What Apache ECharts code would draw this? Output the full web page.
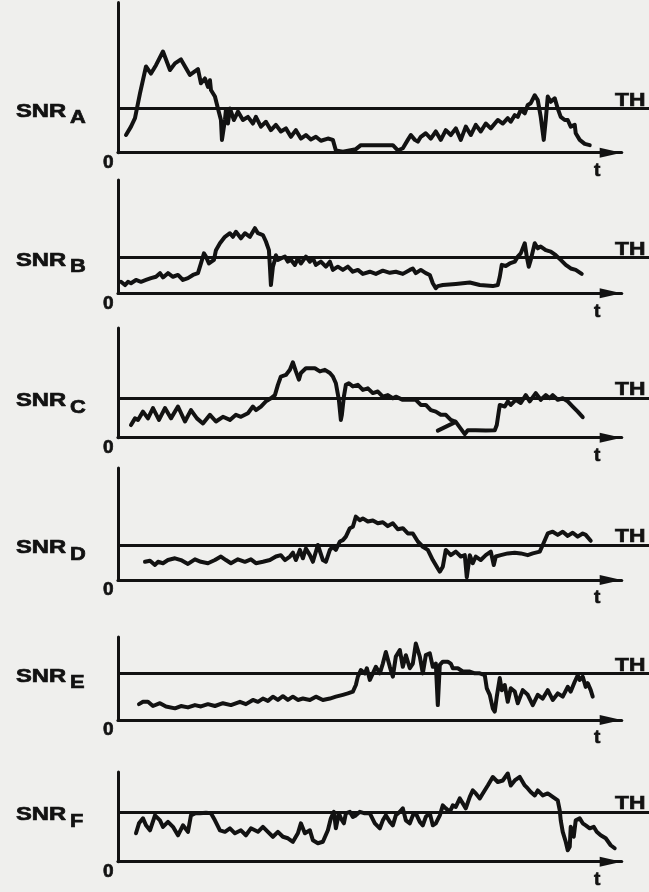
<!DOCTYPE html>
<html>
<head>
<meta charset="utf-8">
<script src="https://cdn.jsdelivr.net/npm/echarts/dist/echarts.min.js"></script>
<style>
html,body{margin:0;padding:0;background:#efefed;}
#chart{width:649px;height:892px;}
</style>
</head>
<body>
<div id="chart"></div>
<script>
// ---- data (time units along t, SNR in units where threshold TH = 10) ----
const panelNames = ['A', 'B', 'C', 'D', 'E', 'F'];
const thresholds = [10, 10, 10, 10, 10, 10];
const timeMax = 504;
const yMax = [34, 31.5, 27.8, 32, 17.8, 18];

const snrA = [[8,4.0],[13,5.9],[17,7.8],[22,13.4],[28,19.5],[33,17.9],[38,19.8],[45,22.9],[52,18.7],[57,20.2],[63,21.1],[72,17.6],[80,18.9],[83,15.7],[87,16.8],[90,14.9],[92,16.4],[93,14.2],[97,12.7],[100,10.0],[103,7.4],[104,2.9],[107,7.4],[108,9.7],[110,6.6],[112,10.0],[116,7.4],[120,9.3],[125,7.4],[130,8.1],[135,6.6],[138,8.1],[143,5.9],[148,7.0],[153,5.1],[158,6.3],[163,4.8],[168,5.5],[173,3.6],[178,5.1],[183,3.2],[188,4.0],[193,3.0],[198,3.6],[203,2.7],[210,3.2],[215,2.9],[218,0.5],[225,0.2],[238,0.8],[243,1.7],[275,1.7],[280,0.5],[285,1.0],[290,2.9],[293,4.0],[297,2.9],[300,2.5],[303,3.6],[308,4.4],[313,3.2],[318,4.8],[323,2.9],[328,5.1],[333,4.0],[338,5.5],[343,2.9],[348,5.9],[353,4.0],[358,6.3],[363,4.8],[368,6.6],[373,5.5],[380,7.4],[385,6.6],[390,7.8],[393,7.0],[397,8.5],[400,8.1],[403,9.7],[407,8.9],[410,10.8],[413,11.2],[417,13.0],[420,11.9],[423,8.1],[426,2.9],[428,7.4],[430,12.7],[433,11.5],[437,12.3],[440,10.0],[443,8.1],[447,7.4],[450,7.4],[453,5.9],[457,6.3],[458,4.4],[462,2.9],[467,2.0],[472,1.7]];

const snrB = [[3,3.2],[7,2.3],[10,3.2],[13,2.8],[18,3.7],[23,3.2],[28,3.7],[33,4.2],[38,4.6],[42,5.6],[45,4.4],[50,5.6],[55,4.6],[60,5.1],[65,3.7],[70,4.2],[75,5.1],[80,5.6],[83,8.3],[86,11.1],[88,10.2],[91,8.3],[93,7.9],[96,9.3],[98,12.0],[102,13.9],[107,15.7],[112,16.7],[115,15.7],[118,17.1],[123,15.3],[127,16.7],[132,15.7],[137,18.1],[140,16.7],[145,16.2],[148,14.4],[151,12.0],[152,7.4],[153,2.3],[155,7.4],[157,9.3],[158,10.6],[160,9.3],[163,9.7],[167,10.2],[170,8.8],[173,9.3],[177,7.9],[180,9.7],[183,8.3],[188,10.2],[192,8.8],[195,9.7],[198,7.9],[203,8.8],[208,7.4],[212,8.8],[215,6.5],[220,7.4],[225,6.5],[230,7.4],[235,6.0],[240,6.5],[245,5.4],[252,6.0],[258,5.4],[265,6.3],[272,5.7],[278,6.0],[285,5.4],[292,6.5],[295,6.9],[298,5.6],[303,6.5],[308,5.6],[312,5.1],[315,2.8],[318,1.4],[320,2.0],[325,2.3],[338,2.6],[352,3.0],[362,2.3],[375,2.0],[380,2.3],[382,4.6],[384,7.9],[388,7.6],[392,8.3],[397,8.8],[400,10.2],[403,11.1],[407,13.9],[409,10.2],[411,7.4],[413,9.3],[417,13.9],[420,12.5],[423,13.0],[428,12.0],[433,11.6],[438,10.6],[443,9.3],[448,7.9],[453,6.9],[458,6.5],[464,5.4]];

const snrC = [[13,3.2],[17,4.9],[20,4.5],[25,6.6],[30,4.9],[35,7.5],[41,4.5],[47,7.5],[53,4.9],[60,7.9],[67,4.1],[73,7.0],[79,4.9],[85,3.6],[92,5.8],[98,4.1],[105,5.3],[112,4.5],[118,5.8],[123,5.3],[130,6.2],[135,7.9],[138,7.0],[143,7.9],[148,9.2],[153,10.0],[157,10.8],[160,13.4],[163,15.5],[168,15.9],[172,17.2],[175,19.1],[178,16.8],[181,14.7],[183,16.4],[188,17.6],[197,17.6],[202,16.8],[207,17.2],[212,16.4],[215,15.5],[218,13.8],[221,9.6],[223,4.5],[224,5.8],[226,10.4],[228,13.4],[231,13.8],[235,13.0],[240,13.4],[245,12.1],[250,12.5],[255,11.3],[260,11.7],[265,10.4],[270,10.8],[275,10.0],[278,10.4],[285,9.6],[292,9.7],[298,9.6],[303,8.3],[308,8.3],[313,7.0],[318,6.6],[323,5.8],[328,5.8],[333,4.5],[338,4.0],[320,1.8],[338,4.0],[342,2.6],[347,0.9],[350,1.9],[358,1.9],[368,1.8],[377,1.9],[379,3.2],[381,6.6],[382,8.3],[387,7.9],[390,9.2],[393,8.3],[398,9.6],[403,8.8],[408,10.8],[412,9.2],[418,11.3],[423,9.6],[428,10.8],[432,10.0],[435,10.8],[440,9.6],[445,10.0],[450,9.2],[455,7.9],[460,6.6],[465,5.2]];

const snrD = [[27,5.2],[32,5.5],[37,4.3],[40,5.2],[45,4.8],[50,5.7],[57,6.2],[63,5.7],[70,4.6],[77,5.9],[83,5.2],[90,4.8],[97,5.7],[103,6.7],[108,5.7],[113,4.8],[120,5.9],[127,5.2],[133,5.9],[138,4.8],[145,5.2],[152,5.7],[158,6.7],[163,7.1],[167,5.7],[172,6.7],[175,7.8],[178,5.7],[182,8.6],[185,6.2],[188,9.0],[192,7.1],[195,5.2],[200,10.0],[205,5.7],[208,5.2],[212,8.6],[215,9.5],[218,8.6],[222,11.0],[225,11.4],[228,12.4],[232,14.8],[235,15.2],[238,18.1],[242,17.1],[245,17.6],[250,16.7],[255,17.0],[260,16.2],[265,16.5],[270,15.4],[275,16.2],[280,14.5],[285,14.8],[290,13.3],[295,13.3],[300,11.0],[305,9.5],[310,8.6],[315,5.7],[320,3.3],[322,2.4],[325,3.8],[328,8.6],[333,7.1],[338,8.1],[343,6.7],[347,7.1],[349,0.8],[352,7.1],[355,4.8],[358,6.7],[363,5.7],[368,7.1],[373,8.1],[376,4.3],[378,6.7],[383,7.1],[390,7.6],[397,7.8],[403,7.6],[410,7.1],[415,7.6],[422,8.1],[425,10.0],[430,13.3],[435,13.8],[440,12.9],[445,13.8],[450,12.6],[455,13.5],[460,12.4],[465,13.3],[468,12.9],[473,11.2]];

const snrE = [[21,3.4],[25,3.9],[30,3.9],[35,3.0],[42,3.6],[48,2.9],[57,2.5],[63,3.0],[70,2.7],[77,3.2],[83,2.9],[90,3.4],[97,3.0],[105,3.6],[113,3.2],[122,3.9],[128,3.4],[135,4.3],[140,3.9],[145,4.6],[150,4.1],[155,5.0],[160,4.3],[165,5.1],[170,4.3],[175,5.0],[180,4.3],[185,4.6],[192,4.3],[198,5.0],[205,4.3],[212,4.6],[218,5.0],[225,5.4],[230,5.7],[235,6.1],[238,7.5],[240,9.3],[243,10.7],[247,10.0],[249,11.1],[252,8.6],[255,10.0],[258,11.4],[262,10.0],[265,12.1],[268,14.6],[272,11.4],[275,9.3],[278,13.6],[282,15.0],[285,11.4],[288,13.9],[292,11.1],[295,12.1],[298,16.4],[302,13.6],[305,10.0],[308,13.9],[312,14.3],[315,11.4],[318,12.1],[320,3.2],[322,11.8],[325,12.5],[330,12.5],[333,12.1],[335,11.1],[340,11.1],[345,10.4],[352,10.4],[357,10.0],[362,10.0],[367,9.6],[369,6.8],[372,5.4],[375,2.5],[377,1.8],[379,5.0],[382,9.0],[384,6.4],[387,7.5],[390,3.9],[393,6.8],[397,6.1],[400,3.6],[405,6.4],[410,5.4],[415,3.2],[420,5.4],[425,4.6],[430,6.4],[435,4.3],[440,5.7],[445,5.0],[450,7.1],[453,6.1],[457,8.2],[460,9.6],[462,8.6],[465,9.3],[468,7.1],[470,7.9],[473,6.4],[475,5.0]];

const snrF = [[18,5.7],[21,7.7],[25,8.7],[28,7.3],[32,6.3],[37,9.3],[42,8.3],[45,7.0],[50,8.0],[55,7.0],[60,5.3],[65,7.3],[70,6.0],[73,9.3],[77,9.7],[82,9.7],[88,9.8],[93,9.7],[97,8.3],[102,6.3],[107,6.0],[112,6.7],[117,5.7],[123,6.3],[128,5.3],[133,6.7],[140,6.0],[145,7.0],[150,6.0],[155,5.0],[160,6.0],[165,5.0],[170,4.7],[175,4.0],[180,5.7],[183,7.7],[187,5.7],[192,6.3],[195,4.3],[200,3.7],[205,4.0],[210,6.3],[213,8.7],[216,10.0],[218,6.7],[221,9.7],[223,8.7],[226,7.7],[228,9.7],[232,10.0],[235,9.0],[238,9.3],[242,10.0],[247,9.7],[252,9.7],[257,7.7],[262,6.7],[265,8.3],[268,9.3],[272,8.0],[275,7.3],[278,9.3],[282,10.0],[285,10.7],[288,8.3],[292,7.7],[295,9.3],[298,9.7],[302,8.0],[305,7.3],[308,9.0],[312,9.7],[315,7.3],[318,7.7],[322,9.3],[325,11.3],[328,10.7],[332,10.0],[335,11.3],[338,11.0],[342,12.7],[345,11.7],[348,10.7],[352,13.0],[355,14.3],[358,13.7],[362,12.7],[365,13.7],[370,15.3],[375,17.0],[380,16.0],[385,16.3],[390,17.7],[393,15.3],[397,16.3],[402,17.0],[407,15.3],[410,14.7],[413,14.0],[417,13.3],[420,14.3],[425,13.3],[430,13.7],[435,13.0],[440,12.3],[442,10.3],[443,8.3],[445,6.0],[448,4.0],[450,2.3],[452,3.0],[453,7.0],[456,5.0],[458,8.3],[462,8.7],[465,7.7],[468,7.3],[472,6.7],[476,7.0],[479,6.0],[483,5.3],[488,4.7],[493,3.3],[497,2.7]];

const traces = [snrA, snrB, snrC, snrD, snrE, snrF];

// ---- layout (pixels) ----
const gridTop  = [2.4, 180, 328, 468, 637, 772];
const gridBase = [152.7, 293.3, 437.7, 580, 720, 861.7];
const plotLeft = 118, arrowTipX = 621.7;
const ink = '#121212';
const FONT = 'bold 19px "Liberation Sans", Arial, sans-serif';

const grid = [], xAxis = [], yAxis = [], series = [], graphic = [];
traces.forEach(function (tr, i) {
  const h = gridBase[i] - gridTop[i];
  grid.push({left: plotLeft, width: arrowTipX - plotLeft, top: gridTop[i], height: h});
  grid.push({left: plotLeft, right: 0, top: gridTop[i], height: h});
  xAxis.push({
    gridIndex: 2 * i, type: 'value', min: 0, max: timeMax,
    axisLine: {show: true, onZero: false, lineStyle: {color: ink, width: 3.2},
      symbol: ['none', 'triangle'], symbolSize: [10, 22], symbolOffset: [0, -11]},
    axisTick: {show: false}, axisLabel: {show: false}, splitLine: {show: false}
  });
  yAxis.push({
    gridIndex: 2 * i, type: 'value', min: 0, max: yMax[i],
    axisLine: {show: true, onZero: false, lineStyle: {color: ink, width: 3}},
    axisTick: {show: false}, axisLabel: {show: false}, splitLine: {show: false}
  });
  xAxis.push({gridIndex: 2 * i + 1, type: 'value', min: 0, max: 1, show: false});
  yAxis.push({gridIndex: 2 * i + 1, type: 'value', min: 0, max: yMax[i], show: false});

  series.push({
    type: 'line', xAxisIndex: 2 * i, yAxisIndex: 2 * i, data: tr,
    symbol: 'none', showSymbol: false, clip: false, z: 5,
    lineStyle: {color: ink, width: 4, join: 'round', cap: 'round'}
  });
  series.push({
    type: 'line', xAxisIndex: 2 * i + 1, yAxisIndex: 2 * i + 1, data: [],
    symbol: 'none',
    markLine: {
      silent: true, symbol: ['none', 'none'], label: {show: false},
      lineStyle: {color: ink, width: 3.2, type: 'solid'},
      emphasis: {disabled: true},
      data: [{yAxis: thresholds[i]}]
    }
  });

  const thPx = gridBase[i] - (gridBase[i] - gridTop[i]) * thresholds[i] / yMax[i];
  const base = gridBase[i];
  function txt(s, x, y, sx) {
    graphic.push({type: 'text', x: x, y: y, scaleX: sx, silent: true,
      style: {text: s, font: FONT, fill: ink, stroke: ink, lineWidth: 0.7,
        verticalAlign: 'middle', align: 'left'}});
  }
  txt('SNR', 16, thPx + 3, 1.25);
  txt(panelNames[i], 70, thPx + 9.5, 1.15);
  txt('TH', 615, thPx - 8, 1.2);
  txt('0', 103, base + 10, 1.0);
  txt('t', 594, base + 18, 1.0);
});

const chart = echarts.init(document.getElementById('chart'), null, {renderer: 'canvas'});
chart.setOption({
  backgroundColor: '#efefed',
  animation: false,
  grid: grid, xAxis: xAxis, yAxis: yAxis, series: series, graphic: graphic
});
</script>
</body>
</html>
